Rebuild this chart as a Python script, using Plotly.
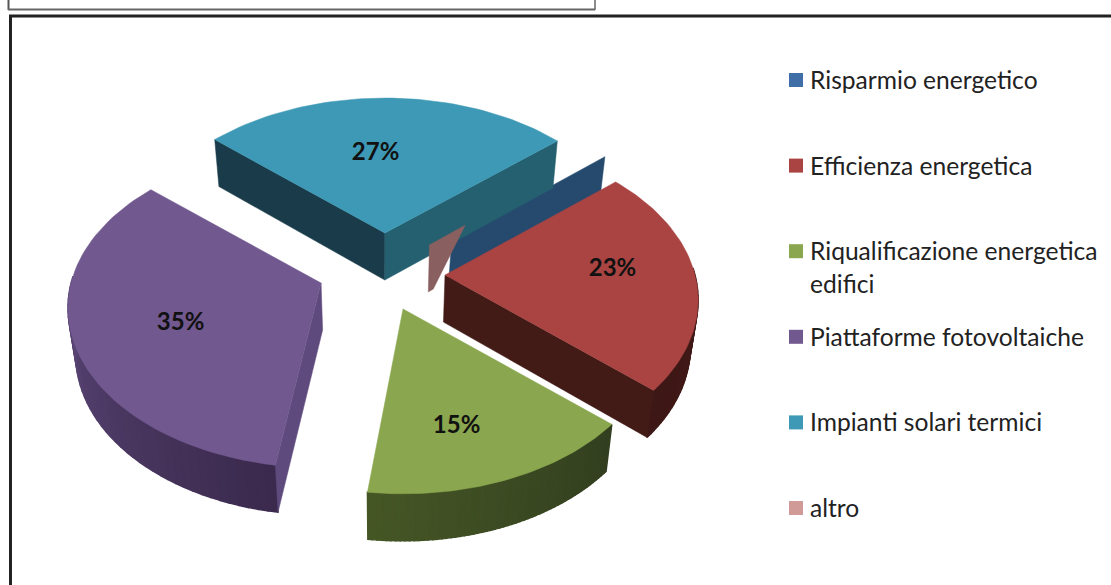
import numpy as np
import plotly.graph_objects as go

# ---- data ----
categories = ["Risparmio energetico", "Efficienza energetica",
              "Riqualificazione energetica<br>edifici", "Piattaforme fotovoltaiche",
              "Impianti solari termici", "altro"]
values = [0.05, 23, 15.4, 34.6, 27, 0.05]
percent_labels = ["", "23%", "15%", "35%", "27%", ""]

# ---- style ----
top_colors = ["#264a6e", "#a94442", "#8aa64e", "#71588f", "#3d99b5", "#8a5f5f"]
legend_colors = ["#3f6fa6", "#a94442", "#8aa64e", "#71588f", "#3d99b5", "#d09a98"]
rim_start = ["#264a6e", "#4e1f1d", "#333f20", "#3b2a4d", "#256070", "#8a5f5f"]
rim_end = ["#264a6e", "#3d1816", "#465726", "#6e5790", "#256070", "#8a5f5f"]
face_start = ["#264a6e", "#421b17", "#333f20", "#5e4a7c", "#256070", "#8a5f5f"]
face_end = ["#264a6e", "#421b17", "#333f20", "#5e4a7c", "#1a3c4a", "#8a5f5f"]
apex_nudge = [(5, 3), (0, -3), (-2, 2), (-4, -6), (2, 2), (0, -2)]
label_nudge = [(0, 0), (10, -5), (-8, 17), (12, 5), (-9, 10), (0, 0)]
start_nudge_deg = [0, 0, 0, 2, 0, 0]
end_nudge_deg = [0, 0, 0, 0, 1, 0]
sliver_extent = {0: (0.1, 1.0, 0.09, 1.0), 5: (0.0, 0.21, 0.0, 0.03)}
START_DEG = 48.8
CX, CY = 383, 278
EX, EY_BACK, EY_FRONT = 62, 47, 31
A, B, K = 250, 156, 0.156
DEPTH = 47
SQUEEZE = 0.975


def proj(theta, rho=1.0):
    u, v = rho * np.sin(theta), rho * np.cos(theta)
    w = 1 + K * v
    return A * u / w, -B * v / w


def down(x, y):
    return CX + (x - CX) * SQUEEZE, y + DEPTH


def mix(c1, c2, t):
    a = [int(c1[i:i + 2], 16) for i in (1, 3, 5)]
    b = [int(c2[i:i + 2], 16) for i in (1, 3, 5)]
    return "rgb(%d,%d,%d)" % tuple(a[i] + (b[i] - a[i]) * t for i in range(3))


fig = go.Figure()


def poly(xs, ys, color, width=0.5):
    fig.add_trace(go.Scatter(x=list(xs), y=list(ys), mode="lines", fill="toself",
                             fillcolor=color, line=dict(color=color, width=width),
                             hoverinfo="skip", showlegend=False))


total = sum(values)
edges = START_DEG + np.cumsum([0] + [v / total * 360 for v in values[1:]])
spans = {}
for i in range(1, 5):
    spans[i] = (edges[i - 1], edges[i])
spans[5] = (edges[4], edges[4] + values[5] / total * 360)
spans[0] = (START_DEG - values[0] / total * 360, START_DEG)


def apex(mid, i):
    s, c = np.sin(mid), np.cos(mid)
    return CX + EX * s + apex_nudge[i][0], CY - (EY_BACK if c > 0 else EY_FRONT) * c + apex_nudge[i][1]


labels_x, labels_y, labels_t = [], [], []
for i in [0, 4, 5, 3, 1, 2]:
    a0, a1 = np.radians(spans[i])
    mid = (a0 + a1) / 2
    ax, ay = apex(mid, i)
    if i in (0, 5):
        # near-zero slices: only their radial wall shows
        rx, ry = proj(mid)
        t0, t1, b0f, b1f = sliver_extent[i]
        top0 = (ax + rx * t0, ay + ry * t0)
        top1 = (ax + rx * t1, ay + ry * t1)
        bot0 = down(ax + rx * b0f, ay + ry * b0f)
        bot1 = down(ax + rx * b1f, ay + ry * b1f)
        poly([top0[0], top1[0], bot1[0], bot0[0], top0[0]],
             [top0[1], top1[1], bot1[1], bot0[1], top0[1]], top_colors[i])
        continue
    th = np.linspace(a0 + np.radians(start_nudge_deg[i]), a1 + np.radians(end_nudge_deg[i]), 61)
    xs, ys = proj(th)
    xs, ys = ax + xs, ay + ys
    # rim, front part only
    for k in range(len(th) - 1):
        if np.cos((th[k] + th[k + 1]) / 2) < 0.05:
            b0, b1 = down(xs[k], ys[k]), down(xs[k + 1], ys[k + 1])
            t = (k + 0.5) / (len(th) - 1)
            poly([xs[k], xs[k + 1], b1[0], b0[0], xs[k]], [ys[k], ys[k + 1], b1[1], b0[1], ys[k]],
                 mix(rim_start[i], rim_end[i], t), width=1.5)
    # radial walls, where they face the viewer
    mx, my = proj(mid)
    mx, my = ax + mx, ay + my
    for ex, ey, col in ((xs[0], ys[0], face_end[i]), (xs[-1], ys[-1], face_start[i])):
        nx, ny = ey - ay, -(ex - ax)
        side_in = (mx - ax) * nx + (my - ay) * ny
        side_dn = DEPTH * ny
        if side_in * side_dn < 0:
            da, db = down(ax, ay), down(ex, ey)
            poly([ax, ex, db[0], da[0], ax], [ay, ey, db[1], da[1], ay], col)
    # top face
    poly(np.r_[ax, xs, ax], np.r_[ay, ys, ay], top_colors[i])
    lx, ly = proj(mid, 0.63)
    labels_x.append(ax + lx + label_nudge[i][0])
    labels_y.append(ay + ly + label_nudge[i][1])
    labels_t.append(percent_labels[i])

fig.add_trace(go.Scatter(x=labels_x, y=labels_y, text=labels_t, mode="text",
                         textfont=dict(family="Lato", size=24, color="#111111", weight="bold"),
                         hoverinfo="skip", showlegend=False))

# legend block
LEG_Y0, LEG_STEP = 79.5, 85.6
fig.add_trace(go.Scatter(x=[796] * 6, y=[LEG_Y0 + 0.5 + n * LEG_STEP for n in range(6)], mode="markers",
                         marker=dict(symbol="square", size=14, color=legend_colors),
                         hoverinfo="skip", showlegend=False))
annotations = []
for n, name in enumerate(categories):
    for j, line in enumerate(name.split("<br>")):
        annotations.append(dict(x=808, y=LEG_Y0 + n * LEG_STEP + j * 33, xref="x", yref="y",
                                text=line, showarrow=False, xanchor="left", yanchor="middle",
                                font=dict(family="Lato", size=24.6, color="#222222")))

shapes = [
    dict(type="line", x0=10.5, x1=10.5, y0=16, y1=585, line=dict(color="#222222", width=3)),
    dict(type="line", x0=9, x1=1111, y0=16, y1=16, line=dict(color="#222222", width=3)),
    dict(type="line", x0=8.5, x1=8.5, y0=0, y1=10, line=dict(color="#555555", width=2)),
    dict(type="line", x0=8, x1=595, y0=9.5, y1=9.5, line=dict(color="#666666", width=2)),
    dict(type="line", x0=595, x1=595, y0=0, y1=10, line=dict(color="#666666", width=1.5)),
]

fig.update_layout(
    width=1111, height=585, margin=dict(l=0, r=0, t=0, b=0), autosize=False,
    paper_bgcolor="white", plot_bgcolor="white", showlegend=False,
    xaxis=dict(range=[0, 1111], visible=False, fixedrange=True),
    yaxis=dict(range=[585, 0], visible=False, fixedrange=True),
    annotations=annotations, shapes=shapes,
)
fig.write_html("out.html", config={"displayModeBar": False},
               post_script="document.body.style.margin='0';document.documentElement.style.overflow='hidden';")
